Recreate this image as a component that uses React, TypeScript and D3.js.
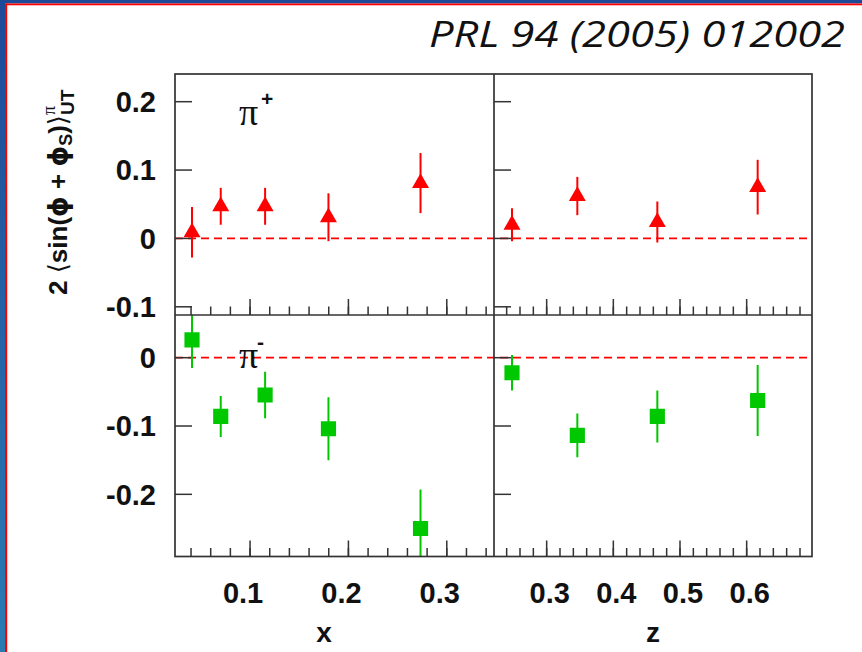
import React from "react";
import * as d3 from "d3";

// ---------- data ----------
const xPiPlusX = [0.041, 0.0702, 0.1153, 0.1797, 0.2733];
const xPiPlusVal = [0.009, 0.047, 0.047, 0.031, 0.081];
const xPiPlusErr = [0.037, 0.027, 0.027, 0.035, 0.044];

const zPiPlusZ = [0.248, 0.346, 0.466, 0.6165];
const zPiPlusVal = [0.020, 0.062, 0.024, 0.075];
const zPiPlusErr = [0.024, 0.028, 0.030, 0.040];

const xPiMinusX = [0.041, 0.0702, 0.1153, 0.1797, 0.2733];
const xPiMinusVal = [0.026, -0.086, -0.0546, -0.104, -0.25];
const xPiMinusErr = [0.041, 0.030, 0.034, 0.046, 0.057];

const zPiMinusZ = [0.248, 0.346, 0.466, 0.6165];
const zPiMinusVal = [-0.022, -0.1136, -0.086, -0.0626];
const zPiMinusErr = [0.026, 0.032, 0.038, 0.052];

const xMajorTicks = [0.1, 0.2, 0.3];
const xTickLabels = ["0.1", "0.2", "0.3"];
const zMajorTicks = [0.3, 0.4, 0.5, 0.6];
const zTickLabels = ["0.3", "0.4", "0.5", "0.6"];
const yTopTicks = [0.2, 0.1, 0, -0.1];
const yTopLabels = ["0.2", "0.1", "0", "-0.1"];
const yBotTicks = [0, -0.1, -0.2];
const yBotLabels = ["0", "-0.1", "-0.2"];

const title = "PRL 94 (2005) 012002";

// ---------- layout ----------
const W = 862, H = 652;
const L = 175, MID = 494, R = 812;
const T = 74, HM = 315, B = 556.5;

const xScale = d3.scaleLinear().domain([0.0237, 0.348]).range([L, MID]);
const zScale = d3.scaleLinear().domain([0.221, 0.698]).range([MID, R]);
const yTop = d3.scaleLinear().domain([-0.112, 0.2405]).range([HM, T]);
const yBot = d3.scaleLinear().domain([-0.291, 0.0625]).range([B, HM]);

const minorX = d3.range(0.04, 0.345, 0.02);
const minorZ = d3.range(0.24, 0.685, 0.02);

const RED = "#ff0000";
const GREEN = "#00c800";
const FRAME = "#333333";
const FONT = "'Liberation Sans', Arial, Helvetica, sans-serif";

const tri = d3.symbol().type(d3.symbolTriangle).size(125)() as string;
const sq = d3.symbol().type(d3.symbolSquare).size(230)() as string;

function Points({ xs, vs, es, sx, sy, color, marker, clipId }: any) {
  return (
    <g clipPath={`url(#${clipId})`}>
      {xs.map((x: number, i: number) => (
        <g key={i}>
          <line x1={sx(x)} x2={sx(x)} y1={sy(vs[i] + es[i])} y2={sy(vs[i] - es[i])} stroke={color} strokeWidth={2} />
          <path d={marker} transform={`translate(${sx(x)},${sy(vs[i])})`} fill={color} />
        </g>
      ))}
    </g>
  );
}

function XTicks({ scale, major, minor, y }: any) {
  return (
    <g stroke={FRAME} strokeWidth={1.5}>
      {major.map((t: number, i: number) => (
        <line key={"M" + i} x1={scale(t)} x2={scale(t)} y1={y} y2={y - 16} />
      ))}
      {minor.map((t: number, i: number) => (
        <line key={"m" + i} x1={scale(t)} x2={scale(t)} y1={y} y2={y - 8.5} />
      ))}
    </g>
  );
}

function YTicks({ scale, ticks, x }: any) {
  return (
    <g stroke={FRAME} strokeWidth={1.5}>
      {ticks.map((t: number, i: number) => (
        <line key={i} x1={x} x2={x + 17} y1={scale(t)} y2={scale(t)} />
      ))}
    </g>
  );
}

export default function App() {
  return (
    <svg width={W} height={H} style={{ position: "absolute", left: 0, top: 0, display: "block" }}>
      <defs>
        <linearGradient id="leftBlue" x1="0" y1="0" x2="0" y2="1">
          <stop offset="0" stopColor="#1d4a98" />
          <stop offset="1" stopColor="#2b7bb3" />
        </linearGradient>
        <clipPath id="cTL"><rect x={L} y={T} width={MID - L} height={HM - T} /></clipPath>
        <clipPath id="cTR"><rect x={MID} y={T} width={R - MID} height={HM - T} /></clipPath>
        <clipPath id="cBL"><rect x={L} y={HM} width={MID - L} height={B - HM} /></clipPath>
        <clipPath id="cBR"><rect x={MID} y={HM} width={R - MID} height={B - HM} /></clipPath>
      </defs>
      <rect x={0} y={0} width={W} height={H} fill="#ffffff" />
      {/* slide borders */}
      <rect x={0} y={0} width={W} height={3.5} fill="#1d4a98" />
      <rect x={0} y={3.5} width={W} height={1.8} fill={RED} />
      <rect x={0} y={0} width={5} height={H} fill="url(#leftBlue)" />
      <rect x={5} y={3.5} width={2.2} height={H} fill={RED} />

      {/* title */}
      <text x={845} y={47} textAnchor="end" fontFamily="'Open Sans', 'Noto Sans', sans-serif" fontStyle="italic" fontSize={36} fill="#111" textLength={416} lengthAdjust="spacingAndGlyphs">{title}</text>

      {/* zero lines */}
      <line x1={L} x2={R} y1={yTop(0)} y2={yTop(0)} stroke={RED} strokeWidth={1.7} strokeDasharray="8,5" />
      <line x1={L} x2={R} y1={yBot(0)} y2={yBot(0)} stroke={RED} strokeWidth={1.7} strokeDasharray="8,5" />

      {/* ticks */}
      <XTicks scale={xScale} major={xMajorTicks} minor={minorX} y={HM} />
      <XTicks scale={xScale} major={xMajorTicks} minor={minorX} y={B} />
      <XTicks scale={zScale} major={zMajorTicks} minor={minorZ} y={HM} />
      <XTicks scale={zScale} major={zMajorTicks} minor={minorZ} y={B} />
      <YTicks scale={yTop} ticks={yTopTicks} x={L} />
      <YTicks scale={yTop} ticks={yTopTicks} x={MID} />
      <YTicks scale={yBot} ticks={yBotTicks} x={L} />
      <YTicks scale={yBot} ticks={yBotTicks} x={MID} />

      {/* data */}
      <Points xs={xPiPlusX} vs={xPiPlusVal} es={xPiPlusErr} sx={xScale} sy={yTop} color={RED} marker={tri} clipId="cTL" />
      <Points xs={zPiPlusZ} vs={zPiPlusVal} es={zPiPlusErr} sx={zScale} sy={yTop} color={RED} marker={tri} clipId="cTR" />
      <Points xs={xPiMinusX} vs={xPiMinusVal} es={xPiMinusErr} sx={xScale} sy={yBot} color={GREEN} marker={sq} clipId="cBL" />
      <Points xs={zPiMinusZ} vs={zPiMinusVal} es={zPiMinusErr} sx={zScale} sy={yBot} color={GREEN} marker={sq} clipId="cBR" />

      {/* frames */}
      <g fill="none" stroke={FRAME} strokeWidth={1.7}>
        <rect x={L} y={T} width={R - L} height={B - T} />
        <line x1={MID} x2={MID} y1={T} y2={B} />
        <line x1={L} x2={R} y1={HM} y2={HM} />
      </g>

      {/* pi labels */}
      <text x={239} y={125} fontFamily="'Liberation Serif', 'Times New Roman', serif" fontSize={38} fill="#111">π</text>
      <text x={261} y={106} fontFamily={FONT} fontWeight="bold" fontSize={21} fill="#111">+</text>
      <text x={239} y={368} fontFamily="'Liberation Serif', 'Times New Roman', serif" fontSize={38} fill="#111">π</text>
      <text x={257} y={349} fontFamily={FONT} fontWeight="bold" fontSize={21} fill="#111">-</text>

      {/* y tick labels */}
      <g fontFamily={FONT} fontWeight="bold" fontSize={29} fill="#111" textAnchor="end">
        {yTopTicks.map((t, i) => (
          <text key={"yt" + i} x={156} y={yTop(t)} dy="0.36em">{yTopLabels[i]}</text>
        ))}
        {yBotTicks.map((t, i) => (
          <text key={"yb" + i} x={156} y={yBot(t)} dy="0.36em">{yBotLabels[i]}</text>
        ))}
      </g>

      {/* x tick labels */}
      <g fontFamily={FONT} fontWeight="bold" fontSize={29} fill="#111" textAnchor="middle">
        {xMajorTicks.map((t, i) => (
          <text key={"xl" + i} x={xScale(t) - 7} y={603}>{xTickLabels[i]}</text>
        ))}
        {zMajorTicks.map((t, i) => (
          <text key={"zl" + i} x={zScale(t) + 3} y={603}>{zTickLabels[i]}</text>
        ))}
      </g>

      {/* axis titles */}
      <text x={324} y={642} textAnchor="middle" fontFamily={FONT} fontWeight="bold" fontSize={28} fill="#111">x</text>
      <text x={653} y={642} textAnchor="middle" fontFamily={FONT} fontWeight="bold" fontSize={28} fill="#111">z</text>

      {/* y axis title */}
      <text transform="translate(67,295) rotate(-90)" fontFamily={FONT} fontWeight="bold" fontSize={26} fill="#111">
        <tspan>2 </tspan>
        <tspan fontFamily="'DejaVu Sans', sans-serif" fontWeight="normal">⟨</tspan>
        <tspan>sin(</tspan>
        <tspan fontFamily="'DejaVu Sans', sans-serif">ϕ</tspan>
        <tspan> + </tspan>
        <tspan fontFamily="'DejaVu Sans', sans-serif">ϕ</tspan>
        <tspan fontSize={18} dy={5}>S</tspan>
        <tspan dy={-5}>)</tspan>
        <tspan fontFamily="'DejaVu Sans', sans-serif" fontWeight="normal">⟩</tspan>
        <tspan fontFamily="'Liberation Serif', serif" fontWeight="normal" fontSize={18} dy={-12}>π</tspan>
        <tspan fontSize={19} dx={-9} dy={19}>UT</tspan>
      </text>
    </svg>
  );
}
